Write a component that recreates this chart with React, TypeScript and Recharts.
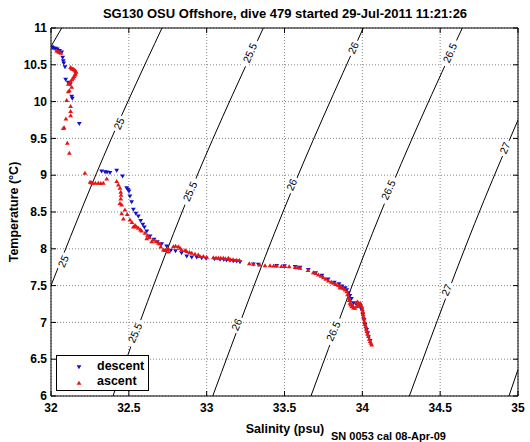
import React from "react";
import {
  ComposedChart,
  Line,
  Scatter,
  XAxis,
  YAxis,
  CartesianGrid,
  ReferenceArea,
} from "recharts";

// plot box (px) inside the 530x442 figure
const PLOT = { left: 51, right: 518, top: 28, bottom: 396 };
const FONT = "'Liberation Sans', Arial, Helvetica, sans-serif";
const BLUE = "#1212cc";
const RED = "#e41616";

const S_TICKS = [32, 32.5, 33, 33.5, 34, 34.5, 35];
const T_TICKS = [6, 6.5, 7, 7.5, 8, 8.5, 9, 9.5, 10, 10.5, 11];

// isopycnals (sigma-theta), points: [salinity, temperature]
const iso245 = [[32.0, 10.75], [32.069, 11]];
const iso25 = [[32.0, 7.5], [32.337, 9.25], [32.713, 11]];
const iso255 = [[32.398, 6], [32.842, 8.5], [33.364, 11]];
const iso26 = [[33.039, 6], [33.49, 8.5], [34.006, 11]];
const iso265 = [[33.67, 6], [34.12, 8.5], [34.642, 11]];
const iso27 = [[34.302, 6], [34.782, 8.66], [35.0, 9.75]];
const iso275 = [[34.942, 6], [35.0, 6.36]];

// contour labels: [salinity, temperature, text]
const contourLabels: [number, number, string][] = [
  [32.437, 9.7, "25"],
  [32.079, 7.83, "25"],
  [33.278, 10.66, "25.5"],
  [32.893, 8.78, "25.5"],
  [32.54, 6.856, "25.5"],
  [33.942, 10.73, "26"],
  [33.546, 8.87, "26"],
  [33.193, 6.97, "26"],
  [34.563, 10.66, "26.5"],
  [34.167, 8.8, "26.5"],
  [33.814, 6.88, "26.5"],
  [34.916, 9.37, "27"],
  [34.542, 7.44, "27"],
];

const descent = [
  [32.005, 10.74], [32.011, 10.73], [32.02, 10.72], [32.03, 10.72], [32.041, 10.71],
  [32.055, 10.69], [32.069, 10.67], [32.075, 10.6], [32.079, 10.55], [32.082, 10.52],
  [32.09, 10.47], [32.094, 10.3], [32.11, 10.26], [32.122, 10.23], [32.133, 10.07],
  [32.137, 10.04], [32.182, 9.7],
  [32.325, 9.053], [32.347, 9.043], [32.36, 9.04], [32.379, 9.034], [32.422, 9.062],
  [32.46, 8.985], [32.486, 8.826], [32.495, 8.8], [32.501, 8.781], [32.507, 8.713],
  [32.518, 8.636], [32.529, 8.532], [32.545, 8.48], [32.561, 8.441], [32.576, 8.382],
  [32.59, 8.33], [32.6, 8.292], [32.615, 8.237], [32.636, 8.169], [32.662, 8.124],
  [32.683, 8.092], [32.711, 8.065], [32.743, 8.033], [32.769, 7.975], [32.8, 7.97],
  [32.839, 7.943], [32.872, 7.898], [32.904, 7.884], [32.936, 7.884], [32.968, 7.875],
  [32.996, 7.866],
  [33.05, 7.86], [33.086, 7.855], [33.11, 7.85], [33.128, 7.843], [33.15, 7.84],
  [33.171, 7.835], [33.193, 7.83], [33.214, 7.82], [33.3, 7.79], [33.332, 7.785],
  [33.45, 7.77], [33.5, 7.765], [33.568, 7.755], [33.6, 7.745], [33.653, 7.716],
  [33.7, 7.67], [33.74, 7.635], [33.78, 7.585], [33.82, 7.54], [33.85, 7.52],
  [33.87, 7.49], [33.89, 7.467], [33.9, 7.44], [33.911, 7.399], [33.92, 7.36],
  [33.93, 7.32], [33.943, 7.264], [33.96, 7.25], [33.982, 7.241], [33.99, 7.2],
  [33.996, 7.173], [34.003, 7.105], [34.011, 7.037], [34.017, 6.969], [34.028, 6.901],
  [34.035, 6.856], [34.04, 6.8], [34.05, 6.75],
];

const ascent = [
  [32.036, 10.69], [32.047, 10.68], [32.054, 10.67], [32.064, 10.66],
  [32.126, 10.466], [32.132, 10.45], [32.139, 10.447], [32.145, 10.44], [32.152, 10.429],
  [32.158, 10.415], [32.161, 10.402], [32.157, 10.38], [32.154, 10.366], [32.148, 10.345],
  [32.143, 10.321], [32.135, 10.3], [32.126, 10.275], [32.118, 10.255], [32.111, 10.239],
  [32.133, 10.2], [32.118, 10.15], [32.111, 10.139], [32.101, 10.02], [32.126, 9.936],
  [32.126, 9.868], [32.126, 9.813], [32.096, 9.768], [32.084, 9.65], [32.079, 9.64],
  [32.105, 9.437], [32.118, 9.302],
  [32.218, 9.03], [32.251, 8.908], [32.26, 8.9], [32.268, 8.894], [32.285, 8.894],
  [32.304, 8.894], [32.32, 8.89], [32.336, 8.894], [32.358, 8.953], [32.422, 8.917],
  [32.433, 8.871], [32.443, 8.826], [32.448, 8.772], [32.45, 8.73], [32.448, 8.681],
  [32.443, 8.62], [32.454, 8.6], [32.454, 8.48], [32.465, 8.41], [32.475, 8.532],
  [32.49, 8.47], [32.507, 8.396], [32.52, 8.36], [32.529, 8.3], [32.54, 8.319],
  [32.55, 8.3], [32.561, 8.283], [32.575, 8.26], [32.582, 8.246], [32.604, 8.215],
  [32.615, 8.14], [32.62, 8.18], [32.632, 8.156], [32.647, 8.1], [32.657, 8.124],
  [32.675, 8.1], [32.69, 8.079], [32.7, 8.07], [32.705, 8.03], [32.722, 7.988],
  [32.732, 7.98], [32.74, 7.99], [32.754, 8.002], [32.754, 7.96], [32.786, 8.033],
  [32.8, 8.04], [32.818, 8.033], [32.829, 8.01], [32.839, 7.988], [32.861, 7.98],
  [32.872, 7.966], [32.89, 7.955], [32.904, 7.943], [32.925, 7.93], [32.946, 7.92],
  [32.957, 7.9], [32.979, 7.898], [33.0, 7.89], [33.043, 7.884], [33.06, 7.88],
  [33.075, 7.875], [33.09, 7.875], [33.107, 7.875], [33.12, 7.87], [33.139, 7.875],
  [33.15, 7.86], [33.17, 7.855], [33.19, 7.85], [33.21, 7.845], [33.274, 7.8],
  [33.3, 7.793], [33.34, 7.785], [33.375, 7.775], [33.407, 7.775], [33.43, 7.77],
  [33.45, 7.77], [33.48, 7.765], [33.503, 7.765], [33.53, 7.76], [33.568, 7.75],
  [33.585, 7.745], [33.6, 7.74], [33.651, 7.71], [33.685, 7.68], [33.7, 7.67],
  [33.718, 7.649], [33.735, 7.63], [33.75, 7.612], [33.765, 7.59], [33.782, 7.567],
  [33.8, 7.55], [33.814, 7.535], [33.83, 7.52], [33.846, 7.504], [33.857, 7.47],
  [33.858, 7.49], [33.868, 7.476], [33.879, 7.46], [33.889, 7.445], [33.9, 7.422],
  [33.905, 7.38], [33.911, 7.332], [33.915, 7.3], [33.92, 7.3], [33.921, 7.264],
  [33.925, 7.24], [33.93, 7.25], [33.932, 7.218], [33.94, 7.22], [33.943, 7.2],
  [33.953, 7.196], [33.96, 7.27], [33.965, 7.22], [33.97, 7.28], [33.975, 7.241],
  [33.986, 7.264], [33.99, 7.24], [33.996, 7.218], [34.0, 7.18], [34.003, 7.15],
  [34.005, 7.11], [34.007, 7.082], [34.01, 7.05], [34.013, 7.014], [34.017, 6.98],
  [34.022, 6.947], [34.025, 6.91], [34.028, 6.878], [34.033, 6.845], [34.039, 6.811],
  [34.045, 6.775], [34.05, 6.743], [34.055, 6.72], [34.06, 6.697],
];

const toPts = (arr: number[][]) => arr.map(([s, t]) => ({ s, t }));
const isopycnals = [iso245, iso25, iso255, iso26, iso265, iso27, iso275].map(toPts);
const labelPts = contourLabels.map(([s, t, label]) => ({ s, t, label }));

function XTick(props: any) {
  const { x, payload } = props;
  return (
    <g>
      <line x1={x} x2={x} y1={PLOT.bottom} y2={PLOT.bottom - 5} stroke="#000" />
      <line x1={x} x2={x} y1={PLOT.top} y2={PLOT.top + 5} stroke="#000" />
      <text x={x} y={PLOT.bottom + 16} textAnchor="middle" fontSize={12} fontWeight="bold" fontFamily={FONT} fill="#000">
        {payload.value}
      </text>
    </g>
  );
}

function YTick(props: any) {
  const { y, payload } = props;
  return (
    <g>
      <line x1={PLOT.left} x2={PLOT.left + 5} y1={y} y2={y} stroke="#000" />
      <line x1={PLOT.right} x2={PLOT.right - 5} y1={y} y2={y} stroke="#000" />
      <text x={PLOT.left - 4} y={y} dy="0.35em" textAnchor="end" fontSize={12} fontWeight="bold" fontFamily={FONT} fill="#000">
        {payload.value}
      </text>
    </g>
  );
}

function ContourLabel(props: any) {
  const { cx, cy, payload } = props;
  const w = payload.label.length * 5.8 + 5;
  return (
    <g transform={`translate(${cx},${cy}) rotate(-66)`}>
      <rect x={-w / 2} y={-3.5} width={w} height={7} fill="#fff" />
      <text x={0} y={0} dy="0.35em" textAnchor="middle" fontSize={10.5} fontFamily={FONT} fill="#000">
        {payload.label}
      </text>
    </g>
  );
}

const DownTri = ({ cx, cy }: any) => (
  <path d={`M${cx - 2.4},${cy - 1.8}L${cx + 2.4},${cy - 1.8}L${cx},${cy + 2.2}Z`} fill={BLUE} />
);
const UpTri = ({ cx, cy }: any) => (
  <path d={`M${cx - 2.4},${cy + 1.8}L${cx + 2.4},${cy + 1.8}L${cx},${cy - 2.2}Z`} fill={RED} />
);

export default function App() {
  return (
    <div style={{ position: "absolute", left: 0, top: 0, width: 530, height: 442, background: "#fff", fontFamily: FONT }}>
      <div style={{ position: "absolute", left: 0, width: 570, top: 6, textAlign: "center", fontSize: 13, fontWeight: "bold" }}>
        SG130 OSU Offshore, dive 479 started 29-Jul-2011 11:21:26
      </div>
      <ComposedChart width={530} height={442} margin={{ top: PLOT.top, right: 12, bottom: 0, left: 0 }}>
        <CartesianGrid stroke="#888" strokeDasharray="1 2" />
        <XAxis
          type="number"
          dataKey="s"
          domain={[32, 35]}
          ticks={S_TICKS}
          interval={0}
          height={46}
          axisLine={false}
          tickLine={false}
          allowDataOverflow
          tick={(p: any) => <XTick {...p} />}
        />
        <YAxis
          type="number"
          dataKey="t"
          domain={[6, 11]}
          ticks={T_TICKS}
          interval={0}
          width={51}
          axisLine={false}
          tickLine={false}
          allowDataOverflow
          tick={(p: any) => <YTick {...p} />}
        />
        {isopycnals.map((d, i) => (
          <Line
            key={i}
            data={d}
            dataKey="t"
            type="monotone"
            stroke="#000"
            strokeWidth={1}
            dot={false}
            activeDot={false}
            legendType="none"
            isAnimationActive={false}
          />
        ))}
        <Scatter data={labelPts} dataKey="t" shape={(p: any) => <ContourLabel {...p} />} legendType="none" isAnimationActive={false} />
        <Scatter name="descent" data={toPts(descent)} dataKey="t" shape={(p: any) => <DownTri {...p} />} isAnimationActive={false} />
        <Scatter name="ascent" data={toPts(ascent)} dataKey="t" shape={(p: any) => <UpTri {...p} />} isAnimationActive={false} />
        <ReferenceArea x1={32} x2={35} y1={6} y2={11} fill="none" stroke="#000" strokeWidth={1} />
      </ComposedChart>
      <div style={{ position: "absolute", left: 0, width: 570, top: 422, textAlign: "center", fontSize: 12.5, fontWeight: "bold" }}>
        Salinity (psu)
      </div>
      <div style={{ position: "absolute", left: 331, top: 430, fontSize: 11, fontWeight: "bold", whiteSpace: "nowrap" }}>
        SN 0053 cal 08-Apr-09
      </div>
      <div
        style={{
          position: "absolute",
          left: 14,
          top: 212,
          transform: "translate(-50%, -50%) rotate(-90deg)",
          fontSize: 12.5,
          fontWeight: "bold",
          whiteSpace: "nowrap",
        }}
      >
        Temperature (°C)
      </div>
      <div
        style={{
          position: "absolute",
          left: 56,
          top: 355,
          width: 91,
          height: 34,
          border: "1px solid #000",
          background: "#fff",
          fontSize: 12.5,
          fontWeight: "bold",
        }}
      >
        <svg width={30} height={34} style={{ position: "absolute", left: 0, top: 0 }}>
          <path d="M19.6,9.2L24.4,9.2L22,13.2Z" fill={BLUE} />
          <path d="M19.6,28.8L24.4,28.8L22,24.8Z" fill={RED} />
        </svg>
        <div style={{ position: "absolute", left: 40, top: 3, lineHeight: "15px" }}>descent</div>
        <div style={{ position: "absolute", left: 40, top: 18, lineHeight: "15px" }}>ascent</div>
      </div>
    </div>
  );
}
